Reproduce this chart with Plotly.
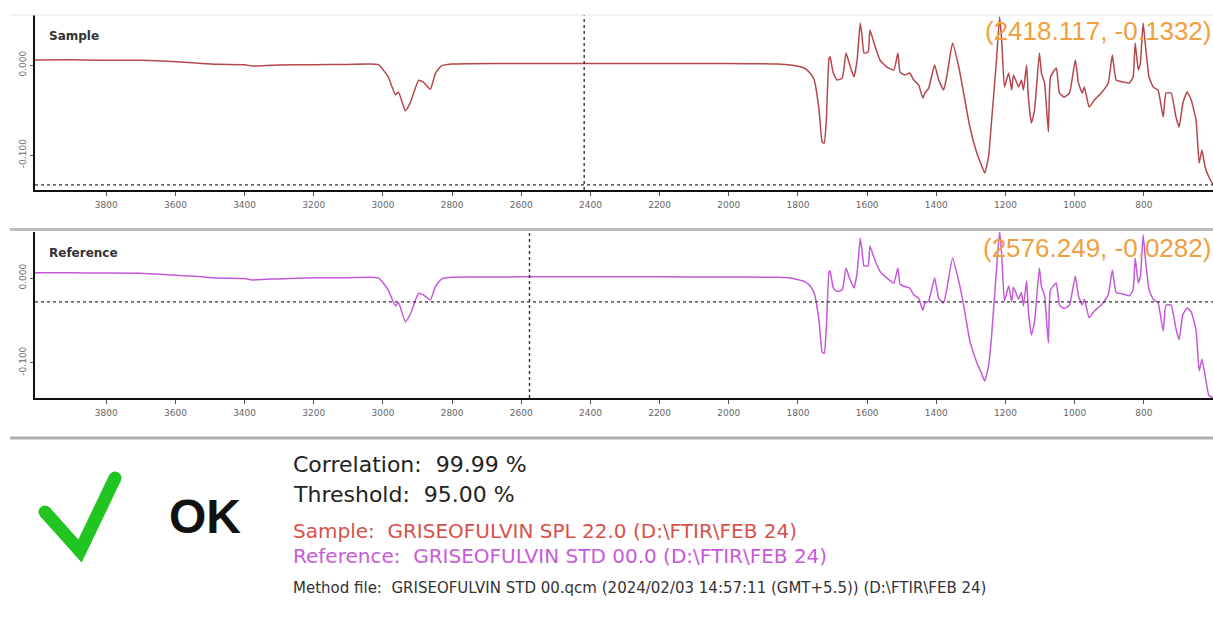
import plotly.graph_objects as go

W, H = 1213, 641

# Wavenumber grid (cm-1) shared by both spectra
wavenumber = [
    4006, 3900, 3820, 3700, 3610, 3540, 3480, 3400, 3378, 3340, 3300, 3200, 3100, 3013,
    2985, 2964, 2955, 2935, 2920, 2897, 2883, 2863, 2848, 2831, 2802, 2750, 2600, 2400,
    2200, 2000, 1900, 1860, 1822, 1782, 1765, 1753, 1739, 1730, 1724, 1718, 1710, 1707,
    1698, 1687, 1672, 1661, 1652, 1638, 1629, 1620, 1615, 1609, 1597, 1592, 1580, 1563,
    1543, 1523, 1511, 1505, 1491, 1477, 1465, 1451, 1439, 1433, 1422, 1405, 1393, 1379,
    1370, 1353, 1335, 1321, 1303, 1283, 1272, 1260, 1249, 1240, 1226, 1217, 1211, 1203,
    1191, 1182, 1177, 1162, 1154, 1148, 1139, 1134, 1125, 1116, 1102, 1096, 1087, 1076,
    1070, 1053, 1044, 1030, 1015, 998, 989, 978, 972, 958, 943, 923, 903, 891,
    880, 860, 842, 831, 825, 816, 810, 802, 796, 785, 773, 759, 744, 736,
    721, 707, 698, 687, 675, 663, 649, 640, 632, 623, 612, 600,
]

sample_abs = [
    0.0056, 0.0058, 0.0054, 0.0052, 0.0040, 0.0022, 0.0008, 0.0004, -0.0012, -0.0006, 0.0000, 0.0004, 0.0006, 0.0004,
    -0.0130, -0.0330, -0.0300, -0.0510, -0.0410, -0.0170, -0.0190, -0.0270, -0.0090, -0.0010, 0.0011, 0.0015, 0.0017, 0.0017,
    0.0017, 0.0016, 0.0014, 0.0011, 0.0000, -0.0033, -0.0089, -0.0167, -0.0500, -0.0856, -0.0867, -0.0611, 0.0078, 0.0089,
    -0.0089, -0.0167, -0.0144, 0.0133, 0.0022, -0.0133, 0.0056, 0.0467, 0.0333, 0.0133, 0.0144, 0.0389, 0.0244, 0.0056,
    -0.0022, -0.0056, 0.0133, -0.0078, -0.0111, -0.0089, -0.0167, -0.0222, -0.0367, -0.0311, -0.0256, 0.0000, -0.0167, -0.0278,
    -0.0133, 0.0244, -0.0022, -0.0311, -0.0689, -0.0978, -0.1089, -0.1200, -0.1022, -0.0611, 0.0056, 0.0533, 0.0278, -0.0244,
    -0.0089, -0.0278, -0.0111, -0.0244, -0.0167, -0.0278, 0.0000, -0.0356, -0.0644, -0.0500, 0.0133, -0.0089, -0.0200, -0.0744,
    -0.0133, -0.0033, -0.0311, -0.0356, -0.0311, 0.0056, -0.0200, -0.0311, -0.0244, -0.0467, -0.0389, -0.0311, -0.0200, 0.0111,
    -0.0167, -0.0189, -0.0200, -0.0133, 0.0244, -0.0056, 0.0022, 0.0467, 0.0244, -0.0133, -0.0244, -0.0278, -0.0578, -0.0311,
    -0.0311, -0.0578, -0.0689, -0.0422, -0.0300, -0.0389, -0.0611, -0.1089, -0.0944, -0.1133, -0.1244, -0.1330,
]

reference_abs = [
    0.0063, 0.0062, 0.0060, 0.0058, 0.0036, 0.0020, 0.0000, -0.0006, -0.0022, -0.0014, -0.0010, 0.0002, 0.0004, 0.0002,
    -0.0140, -0.0330, -0.0290, -0.0520, -0.0420, -0.0180, -0.0200, -0.0260, -0.0100, -0.0012, 0.0008, 0.0012, 0.0014, 0.0014,
    0.0014, 0.0012, 0.0010, 0.0008, 0.0000, -0.0040, -0.0095, -0.0180, -0.0510, -0.0880, -0.0890, -0.0590, 0.0075, 0.0083,
    -0.0118, -0.0160, -0.0142, 0.0118, 0.0010, -0.0118, 0.0060, 0.0474, 0.0330, 0.0142, 0.0142, 0.0380, 0.0240, 0.0080,
    0.0000, -0.0060, 0.0118, -0.0070, -0.0100, -0.0118, -0.0200, -0.0240, -0.0380, -0.0296, -0.0270, 0.0000, -0.0237, -0.0296,
    -0.0140, 0.0237, -0.0040, -0.0320, -0.0746, -0.1000, -0.1100, -0.1220, -0.1040, -0.0675, 0.0100, 0.0557, 0.0280, -0.0270,
    -0.0095, -0.0280, -0.0110, -0.0250, -0.0170, -0.0330, -0.0036, -0.0380, -0.0675, -0.0520, 0.0118, -0.0100, -0.0210, -0.0770,
    -0.0140, -0.0060, -0.0320, -0.0360, -0.0320, 0.0024, -0.0210, -0.0320, -0.0250, -0.0470, -0.0390, -0.0320, -0.0200, 0.0095,
    -0.0170, -0.0190, -0.0210, -0.0140, 0.0237, -0.0060, 0.0020, 0.0510, 0.0250, -0.0140, -0.0250, -0.0290, -0.0630, -0.0320,
    -0.0320, -0.0600, -0.0730, -0.0430, -0.0355, -0.0400, -0.0620, -0.1100, -0.0960, -0.1150, -0.1390, -0.1420,
]

x_ticks = [3800, 3600, 3400, 3200, 3000, 2800, 2600, 2400, 2200, 2000, 1800, 1600, 1400, 1200, 1000, 800, 600]
y_ticks = [0.0, -0.1]
y_tick_text = ["0.000", "-0.100"]

sample_cursor = (2418.117, -0.1332)
reference_cursor = (2576.249, -0.0282)

correlation = 99.99
threshold = 95.00
sample_name = "GRISEOFULVIN SPL 22.0 (D:\\FTIR\\FEB 24)"
reference_name = "GRISEOFULVIN STD 00.0 (D:\\FTIR\\FEB 24)"
method_text = "GRISEOFULVIN STD 00.qcm (2024/02/03 14:57:11 (GMT+5.5)) (D:\\FTIR\\FEB 24)"

SAMPLE_COLOR = "#B5474B"
REFERENCE_COLOR = "#C45AD8"
CURSOR_TEXT_COLOR = "#F0A040"


def px(x):
    return x / W


def py(y):
    return 1 - y / H


fig = go.Figure()
fig.add_trace(go.Scatter(x=wavenumber, y=sample_abs, mode="lines",
                         line=dict(color=SAMPLE_COLOR, width=1.5, shape="spline", smoothing=0.4),
                         xaxis="x", yaxis="y", hoverinfo="skip"))
fig.add_trace(go.Scatter(x=wavenumber, y=reference_abs, mode="lines",
                         line=dict(color=REFERENCE_COLOR, width=1.5, shape="spline", smoothing=0.4),
                         xaxis="x2", yaxis="y2", hoverinfo="skip"))

x_common = dict(
    range=[4006, 600], tickmode="array", tickvals=x_ticks,
    showline=True, linecolor="#111", linewidth=2,
    ticks="outside", ticklen=4, tickcolor="#555", tickwidth=1,
    tickfont=dict(family="DejaVu Sans", size=9, color="#666"),
    ticklabelstandoff=1,
    showgrid=False, zeroline=False, fixedrange=True,
    domain=[px(35), 1],
)
y_common = dict(
    tickmode="array", tickvals=y_ticks, ticktext=y_tick_text, tickangle=-90,
    showline=True, linecolor="#111", linewidth=2,
    ticks="outside", ticklen=3, tickcolor="#555",
    tickfont=dict(family="DejaVu Sans", size=9, color="#666"),
    showgrid=False, zeroline=False, fixedrange=True,
)

fig.update_layout(
    width=W, height=H,
    margin=dict(l=0, r=0, t=0, b=0),
    paper_bgcolor="white", plot_bgcolor="white",
    showlegend=False,
    xaxis=dict(**x_common, anchor="y"),
    yaxis=dict(**y_common, anchor="x", range=[-0.1389, 0.0556],
               domain=[py(190), py(15)]),
    xaxis2=dict(**x_common, anchor="y2"),
    yaxis2=dict(**y_common, anchor="x2", range=[-0.142, 0.0545],
                domain=[py(398), py(232)]),
)

shapes = []
# cursor crosshairs
for xr, yr, (cx, cy) in (("x", "y", sample_cursor), ("x2", "y2", reference_cursor)):
    shapes.append(dict(type="line", xref=xr, yref=f"{yr} domain", x0=cx, x1=cx, y0=0, y1=1,
                       line=dict(color="#333", width=1.4, dash="dot")))
    shapes.append(dict(type="line", xref=f"{xr} domain", yref=yr, x0=0, x1=1, y0=cy, y1=cy,
                       line=dict(color="#333", width=1.4, dash="dot")))

# panel separators
shapes.append(dict(type="line", xref="paper", yref="paper", x0=px(10), x1=1, y0=py(15), y1=py(15),
                   line=dict(color="#E6E6E6", width=1)))
shapes.append(dict(type="line", xref="paper", yref="paper", x0=px(10), x1=1, y0=py(229.5), y1=py(229.5),
                   line=dict(color="#BDBDBD", width=3)))
shapes.append(dict(type="line", xref="paper", yref="paper", x0=px(10), x1=1, y0=py(438), y1=py(438),
                   line=dict(color="#B0B0B0", width=3)))

# green check mark
CHECK = "#22C422"
check_pts = [(45, 512), (80, 551), (115, 478)]
path = "M {} {} L {} {} L {} {}".format(
    px(check_pts[0][0]), py(check_pts[0][1]), px(check_pts[1][0]), py(check_pts[1][1]),
    px(check_pts[2][0]), py(check_pts[2][1]))
shapes.append(dict(type="path", xref="paper", yref="paper", path=path,
                   line=dict(color=CHECK, width=13)))
r = 6.5
for cxp, cyp in check_pts:
    shapes.append(dict(type="circle", xref="paper", yref="paper",
                       x0=px(cxp - r), x1=px(cxp + r), y0=py(cyp + r), y1=py(cyp - r),
                       fillcolor=CHECK, line=dict(width=0)))
fig.update_layout(shapes=shapes)

ann = []
ann.append(dict(text="<b>Sample</b>", x=px(47), y=py(36), xanchor="left", yanchor="middle",
                font=dict(family="DejaVu Sans", size=12, color="#333")))
ann.append(dict(text="<b>Reference</b>", x=px(47), y=py(253), xanchor="left", yanchor="middle",
                font=dict(family="DejaVu Sans", size=12, color="#333")))
ann.append(dict(text="({:.3f}, {:.4f})".format(*sample_cursor), x=px(1213), y=py(31),
                xanchor="right", yanchor="middle",
                font=dict(family="Liberation Sans", size=26, color=CURSOR_TEXT_COLOR)))
ann.append(dict(text="({:.3f}, {:.4f})".format(*reference_cursor), x=px(1213), y=py(248),
                xanchor="right", yanchor="middle",
                font=dict(family="Liberation Sans", size=26, color=CURSOR_TEXT_COLOR)))
ann.append(dict(text="<b>OK</b>", x=px(167), y=py(516), xanchor="left", yanchor="middle",
                font=dict(family="Liberation Sans", size=48, color="#111")))
ann.append(dict(text="Correlation:  {:.2f} %".format(correlation), x=px(291), y=py(464),
                xanchor="left", yanchor="middle",
                font=dict(family="DejaVu Sans", size=22, color="#222")))
ann.append(dict(text="Threshold:  {:.2f} %".format(threshold), x=px(291), y=py(494),
                xanchor="left", yanchor="middle",
                font=dict(family="DejaVu Sans", size=22, color="#222")))
ann.append(dict(text="Sample:  " + sample_name, x=px(291), y=py(531),
                xanchor="left", yanchor="middle",
                font=dict(family="DejaVu Sans", size=20, color="#D8504C")))
ann.append(dict(text="Reference:  " + reference_name, x=px(291), y=py(556),
                xanchor="left", yanchor="middle",
                font=dict(family="DejaVu Sans", size=20, color="#C85AD8")))
ann.append(dict(text="Method file:  " + method_text, x=px(291), y=py(588),
                xanchor="left", yanchor="middle",
                font=dict(family="DejaVu Sans", size=15, color="#333")))
for a in ann:
    a.update(xref="paper", yref="paper", showarrow=False)
fig.update_layout(annotations=ann)

fig.write_html("out.html")
